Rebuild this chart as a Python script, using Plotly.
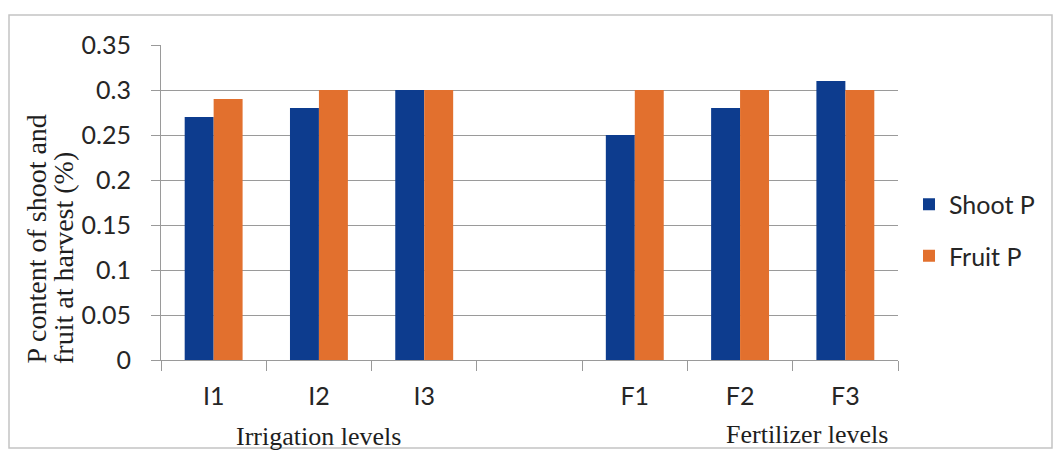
import plotly.graph_objects as go

# Treatment levels (the blank slot separates the two factor groups)
categories = ["I1", "I2", "I3", " ", "F1", "F2", "F3"]
shoot_p = [0.27, 0.28, 0.30, None, 0.25, 0.28, 0.31]
fruit_p = [0.29, 0.30, 0.30, None, 0.30, 0.30, 0.30]

y_tick_values = [0, 0.05, 0.10, 0.15, 0.20, 0.25, 0.30, 0.35]
y_tick_labels = ["0", "0.05", "0.1", "0.15", "0.2", "0.25", "0.3", "0.35"]

BLUE = "#0d3c8e"
ORANGE = "#e2702e"
GRID = "#9a9a9a"
TEXT = "#262626"
SANS = "Lato, 'Open Sans', sans-serif"
SERIF = "'Liberation Serif', 'Times New Roman', serif"

W, H = 1057, 450
L, R, T, B = 161, 159, 45, 90
PW, PH = W - L - R, H - T - B


def px_x(x):
    return (x - L) / PW


def px_y(y):
    return (H - B - y) / PH


fig = go.Figure()
fig.add_trace(go.Bar(x=categories, y=shoot_p, name="Shoot P",
                     marker=dict(color=BLUE, line=dict(width=0)),
                     legendgroup="a"))
fig.add_trace(go.Bar(x=categories, y=fruit_p, name="Fruit P",
                     marker=dict(color=ORANGE, line=dict(width=0)),
                     legendgroup="b"))

fig.update_layout(
    width=W, height=H,
    margin=dict(l=L, r=R, t=T, b=B),
    paper_bgcolor="white", plot_bgcolor="white",
    barmode="group", bargap=0.45, bargroupgap=0,
    font=dict(family=SANS, color=TEXT),
    legend=dict(x=px_x(909), xanchor="left", y=px_y(230), yanchor="middle",
                font=dict(family=SANS, size=25, color=TEXT),
                tracegroupgap=16, bgcolor="rgba(0,0,0,0)"),
    showlegend=True,
)

fig.update_xaxes(
    type="category", categoryorder="array", categoryarray=categories,
    showgrid=False, showline=True, linecolor=GRID, linewidth=1,
    ticks="outside", tickson="boundaries", ticklen=10, tickcolor=GRID,
    tickfont=dict(family=SANS, size=25, color=TEXT),
    ticklabelstandoff=14,
)
fig.update_yaxes(
    range=[0, 0.35], tickvals=y_tick_values, ticktext=y_tick_labels,
    showgrid=True, gridcolor=GRID, gridwidth=1,
    showline=True, linecolor=GRID, linewidth=1,
    ticks="outside", ticklen=9, tickcolor=GRID,
    tickfont=dict(family=SANS, size=25, color=TEXT),
    ticklabelstandoff=15, zeroline=False,
)

# Two-line rotated axis title
fig.add_annotation(text="P content of shoot and", xref="paper", yref="paper",
                   x=px_x(36), y=px_y(366), xanchor="center", yanchor="bottom",
                   textangle=-90, showarrow=False,
                   font=dict(family=SERIF, size=28, color="#1e1e1e"))
fig.add_annotation(text="fruit at harvest (%)", xref="paper", yref="paper",
                   x=px_x(63), y=px_y(366), xanchor="center", yanchor="bottom",
                   textangle=-90, showarrow=False,
                   font=dict(family=SERIF, size=28, color="#1e1e1e"))

# Group captions under the category labels
fig.add_annotation(text="Irrigation levels", xref="paper", yref="paper",
                   x=px_x(318), y=px_y(436), xanchor="center", yanchor="middle",
                   showarrow=False,
                   font=dict(family=SERIF, size=26, color="#1e1e1e"))
fig.add_annotation(text="Fertilizer levels", xref="paper", yref="paper",
                   x=px_x(807), y=px_y(434), xanchor="center", yanchor="middle",
                   showarrow=False,
                   font=dict(family=SERIF, size=26, color="#1e1e1e"))

# Chart frame
fig.add_shape(type="rect", xref="paper", yref="paper",
              x0=px_x(9), x1=px_x(1052), y0=px_y(448), y1=px_y(15),
              line=dict(color="#c4c4c4", width=1.5), layer="below")

fig.write_html("out.html")
